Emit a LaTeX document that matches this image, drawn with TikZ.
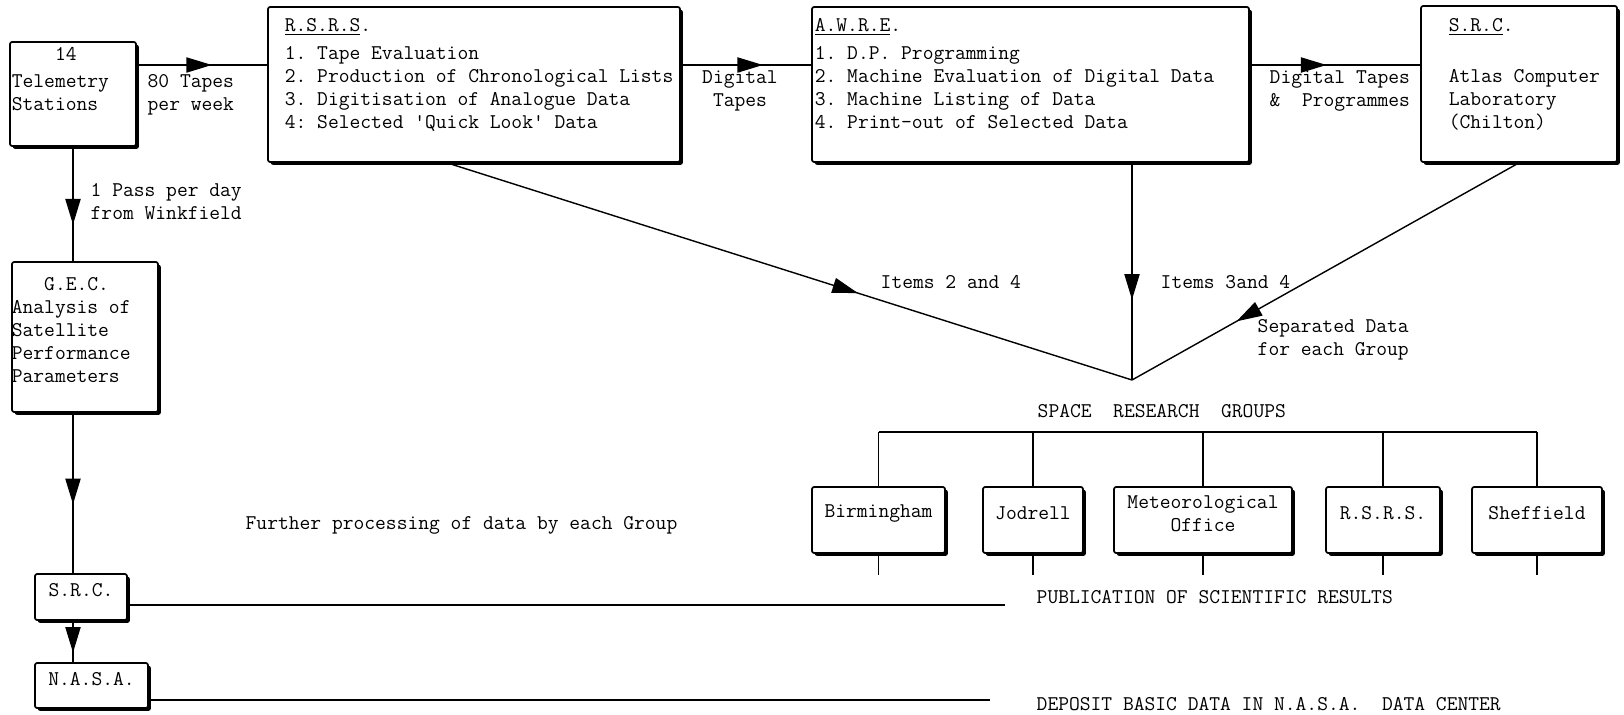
\documentclass[tikz,border=0pt]{standalone}
\usepackage{fontspec}
\usetikzlibrary{arrows.meta,decorations.markings,shadows,fit,positioning}
\newcommand{\typefont}{\ttfamily\addfontfeatures{FakeBold=0.7}\fontsize{14.9pt}{16.4pt}\selectfont}

\begin{document}
\frenchspacing
\begin{tikzpicture}[x=0.025cm,y=-0.025cm,>={Triangle[length=0.64cm,width=0.38cm]},
  font=\typefont,line width=1pt,
  box/.style={draw,fill=white,line width=1.2pt,rounded corners=1.5pt,inner sep=0pt,
    drop shadow={shadow xshift=0.07cm,shadow yshift=-0.07cm,opacity=1,fill=black}},
  txt/.style={inner sep=0pt,anchor=north west,align=left},
  midarrow/.style={postaction={decorate},
    decoration={markings,mark=at position #1 with {\arrow{>}}}}]
  \useasboundingbox (0,0) rectangle (1624,715);

  % processing chain
  \node[box,fit={(10,42)(136,146)}] (tele) {};
  \node[box,fit={(268,7)(680,162)}] (rsrs) {};
  \node[box,fit={(812,7)(1249,162)}] (awre) {};
  \node[box,fit={(1421,6)(1617,162)}] (srca) {};
  \node[box,fit={(12,262)(158,412)}] (gec) {};
  \node[box,fit={(35,574)(127,620)}] (srcb) {S.R.C.};
  \node[box,fit={(35,663)(148,708)}] (nasa) {N.A.S.A.};

  \node[txt] (telet) at ([shift={(2,2)}]tele.north west)
    {\strut\phantom{Tele}14\\[0.1cm]Telemetry\\Stations};
  \node[txt] (rsrst) at ([shift={(17,9)}]rsrs.north west)
    {\strut\underline{R.S.R.S}.\\[0.1cm]1. Tape Evaluation\\2. Production of Chronological Lists\\3. Digitisation of Analogue Data\\4: Selected \textquotesingle Quick Look\textquotesingle\ Data};
  \node[txt] (awret) at ([shift={(3,9)}]awre.north west)
    {\strut\underline{A.W.R.E}.\\[0.1cm]1. D.P. Programming\\2. Machine Evaluation of Digital Data\\3. Machine Listing of Data\\4. Print-out of Selected Data};
  \node[txt] (srcat) at ([shift={(28,10)}]srca.north west)
    {\strut\underline{S.R.C}.\\[0.1cm]\\Atlas Computer\\Laboratory\\(Chilton)};
  \node[txt] (gect) at ([shift={(0,12)}]gec.north west)
    {\strut\phantom{Ana}G.E.C.\\Analysis of\\Satellite\\Performance\\Parameters};

  % research groups
  \node[box,fit={(812,487)(945,553)}] (bham) {Birmingham};
  \node[box,fit={(983,487)(1083,553)}] (jod) {Jodrell};
  \node[box,fit={(1114,487)(1292,553)},align=center] (met) {Meteorological\\Office};
  \node[box,fit={(1326,487)(1440,553)}] (rsrsg) {R.S.R.S.};
  \node[box,fit={(1472,487)(1602,553)}] (sheff) {Sheffield};

  \coordinate (row) at (0,65);
  \coordinate (merge) at (1132,380);
  \coordinate (bus) at (0,432);
  \coordinate (pubend) at (1005,605);
  \coordinate (depend) at (990,700);

  \draw[midarrow=0.576] (tele.east |- row) -- (rsrs.west |- row);
  \draw[midarrow=0.63] (rsrs.east |- row) -- (awre.west |- row);
  \draw[midarrow=0.45] (awre.east |- row) -- (srca.west |- row);
  \draw[midarrow=0.68] (tele.south) -- (tele.south |- gec.north);
  \draw[midarrow=0.57] (tele.south |- gec.south) -- (tele.south |- srcb.north);
  \draw[midarrow=0.77] (tele.south |- srcb.south) -- (tele.south |- nasa.north);
  \draw[midarrow=0.6] (rsrs.251.5) -- (merge);
  \draw[midarrow=0.63] (awre.south -| merge) -- (merge);
  \draw[midarrow=0.73] (srca.south) -- (merge);
  \draw (srcb.east |- pubend) -- (pubend);
  \draw (nasa.east |- depend) -- (depend);
  \draw (bham.north |- bus) -- (sheff.north |- bus);
  \foreach \g in {bham,jod,met,rsrsg,sheff}{
    \draw (\g.north) -- (\g.north |- bus);
    \draw (\g.south) -- ++(0,21);
  }

  % labels
  \node[txt] (tapes) at (147,71) {\strut 80 Tapes\\per week};
  \node[txt] (pass) at (90,180) {\strut 1 Pass per day\\from Winkfield};
  \node[txt,anchor=north,align=center] (dtapes) at (740,67) {\strut Digital\\Tapes};
  \node[txt] (dprog) at (1269,67) {\strut Digital Tapes\\\&\ \ Programmes};
  \node[txt] (items24) at (880,272) {\strut Items 2 and 4};
  \node[txt] (items34) at (1160,272) {\strut Items 3and 4};
  \node[txt] (sepdata) at (1257,316) {\strut Separated Data\\for each Group};
  \node[txt] (groups) at (1037,401) {\strut SPACE\ \ RESEARCH\ \ GROUPS};
  \node[txt] (further) at (245,513) {\strut Further processing of data by each Group};
  \node[txt] (publ) at (1036,587) {\strut PUBLICATION OF SCIENTIFIC RESULTS};
  \node[txt] (depo) at (1036,694) {\strut DEPOSIT BASIC DATA IN N.A.S.A.\ \ DATA CENTER};
\end{tikzpicture}
\end{document}
